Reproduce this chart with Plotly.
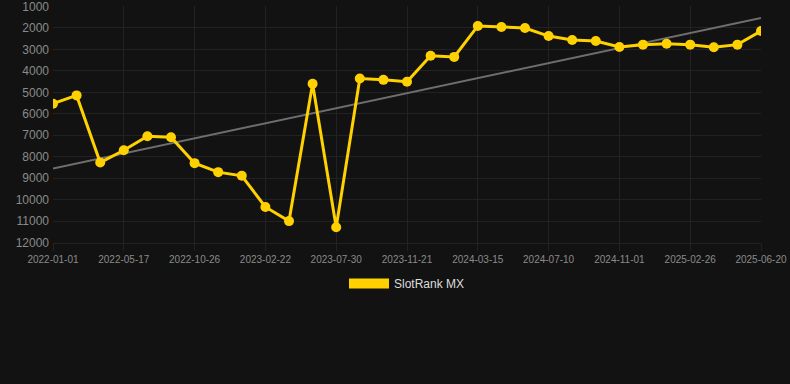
import numpy as np
import plotly.graph_objects as go

dates = [
    "2022-01-01", "2022-02-15", "2022-04-01", "2022-05-17", "2022-07-10", "2022-09-02",
    "2022-10-26", "2022-12-05", "2023-01-14", "2023-02-22", "2023-04-14", "2023-06-06",
    "2023-07-30", "2023-09-07", "2023-10-14", "2023-11-21", "2023-12-29", "2024-02-06",
    "2024-03-15", "2024-04-23", "2024-06-01", "2024-07-10", "2024-08-17", "2024-09-24",
    "2024-11-01", "2024-12-10", "2025-01-18", "2025-02-26", "2025-04-05", "2025-05-13",
    "2025-06-20",
]
ranks = [
    5530, 5145, 8270, 7700, 7050, 7095, 8300, 8720, 8890, 10340, 11000, 4600, 11290,
    4360, 4420, 4510, 3300, 3350, 1910, 1960, 2005, 2380, 2560, 2610, 2890, 2780,
    2735, 2780, 2900, 2780, 2145,
]
y_ticks = [1000, 2000, 3000, 4000, 5000, 6000, 7000, 8000, 9000, 10000, 11000, 12000]
y_ticktext = [str(v) for v in y_ticks]
series_name = "SlotRank MX"

idx = np.arange(len(ranks))
slope, intercept = np.polyfit(idx, ranks, 1)
trend = [intercept, intercept + slope * idx[-1]]

gold = "#FFD100"
bg = "#121212"
tick_col = "#8a8a8a"
grid_col = "#222222"

fig = go.Figure()
fig.add_trace(go.Scatter(
    x=[dates[0], dates[-1]], y=trend, mode="lines",
    line=dict(color="#6e6e6e", width=2), showlegend=False, hoverinfo="skip",
))
fig.add_trace(go.Scatter(
    x=dates, y=ranks, mode="lines+markers",
    line=dict(color=gold, width=3),
    marker=dict(color=gold, size=10),
    showlegend=False,
))
fig.add_trace(go.Scatter(
    x=[None], y=[None], mode="lines", name=series_name,
    line=dict(color=gold, width=12), showlegend=True,
))

fig.update_layout(
    width=790, height=384,
    paper_bgcolor=bg, plot_bgcolor=bg,
    margin=dict(l=53, r=29, t=6, b=141, autoexpand=False),
    font=dict(family="Liberation Sans, Arial, sans-serif", color=tick_col),
    xaxis=dict(
        type="category", categoryorder="array", categoryarray=dates,
        range=[0, len(dates) - 1], automargin=False,
        tickmode="array", tickvals=dates[::3], ticktext=dates[::3],
        tickangle=0, tickfont=dict(size=10, color=tick_col),
        showgrid=True, gridcolor=grid_col, gridwidth=1,
        zeroline=False, showline=True, linecolor=grid_col,
        ticks="outside", ticklen=7, tickcolor=grid_col,
    ),
    yaxis=dict(
        range=[12020, 980], automargin=False,
        tickmode="array", tickvals=y_ticks, ticktext=y_ticktext,
        tickfont=dict(size=12, color=tick_col),
        showgrid=True, gridcolor=grid_col, gridwidth=1,
        zeroline=False, showline=False, ticks="", ticklabelstandoff=3,
        ticklabeloverflow="allow",
    ),
    showlegend=True,
    legend=dict(
        orientation="h", x=0.5, xanchor="center", y=-0.11, yanchor="top",
        font=dict(size=12, color="#dddddd"), itemwidth=40,
        bgcolor="rgba(0,0,0,0)",
    ),
)

fig.write_html(
    "out.html",
    config={"displayModeBar": False},
    post_script="document.body.style.margin='0';document.body.style.background='%s';" % bg,
)
